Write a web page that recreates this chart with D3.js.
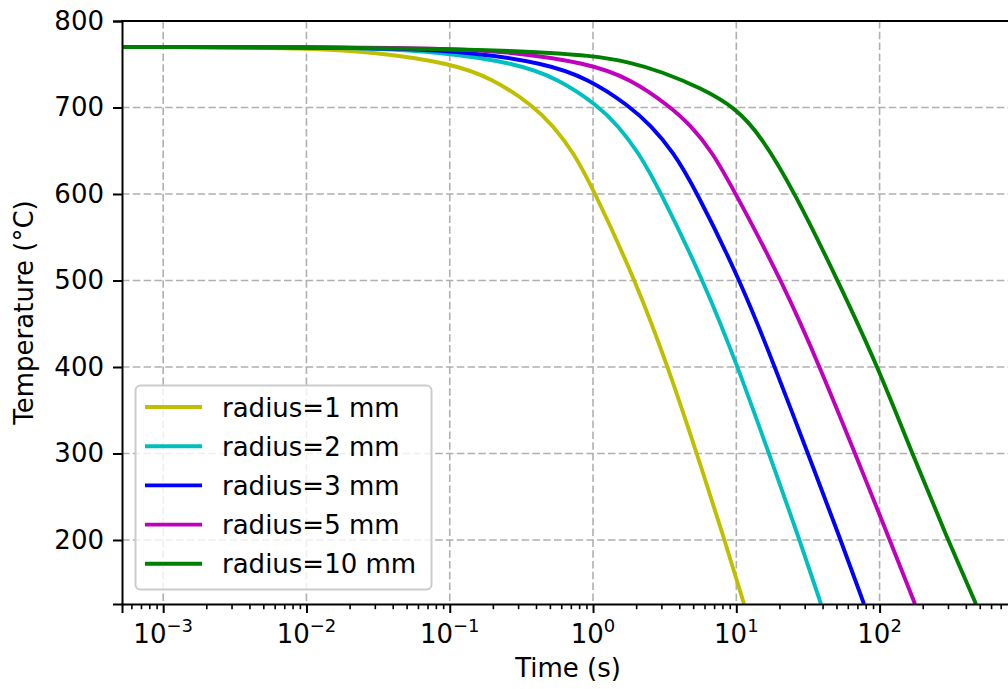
<!DOCTYPE html>
<html>
<head>
<meta charset="utf-8">
<script src="https://cdn.jsdelivr.net/npm/d3@7"></script>
<style>
body{margin:0;background:#fff;}
svg{font-family:"DejaVu Sans",sans-serif;}
</style>
</head>
<body>
<script>
// values
const seriesNames=['radius=1 mm','radius=2 mm','radius=3 mm','radius=5 mm','radius=10 mm']
const seriesColors=['#bfbf00','#00bfbf','#0000ff','#bf00bf','#008000']

const time1=[5.16e-4,0.001,0.003,0.01,0.03,0.1,0.2,0.381,0.526,0.725,1.0,2.028,3.39,5.23,8.21,11.32]
const temp1=[770,769.8,769.4,768.4,764.2,751.4,733.5,702.1,679,648.9,606.4,495.9,396.5,302.9,202.3,126]
const time2=[5.16e-4,0.001,0.01,0.0287,0.0856,0.2856,0.57,1.084,1.494,2.061,2.888,6.047,10.44,16.64,27.39,39.0]
const temp2=[770,770,769.2,768.4,764.2,751.4,733.5,702.1,679,648.9,606.4,495.9,396.5,302.9,202.3,126]
const time3=[5.16e-4,0.001,0.01,0.0457,0.1364,0.455,0.923,1.784,2.539,3.617,5.149,10.96,18.92,31.1,52.9,77.8]
const temp3=[770,770,769.5,768.4,764.2,751.4,733.5,702.1,679,648.9,606.4,495.9,396.5,302.9,202.3,126]
const time5=[5.16e-4,0.001,0.01,0.0912,0.272,0.908,1.812,3.39,4.83,6.77,9.48,21.52,39.6,66.3,116.3,176.6]
const temp5=[770,770,769.9,768.4,764.2,751.4,733.5,702.1,679,648.9,606.4,494.8,394.2,302.9,202.3,126]
const time10=[5.16e-4,0.001,0.01,0.1,0.3145,1.0,1.842,2.982,5.67,9.95,14.87,25.27,51.3,97.4,168.3,300.1,470.7]
const temp10=[770,770,769.9,767.6,765.3,760.1,752,741.6,722.5,699.4,667,603.5,499.4,400,300.6,200,126]

const yTicks=[200,300,400,500,600,700,800]
const xDecades=[-3,-2,-1,0,1,2]

const allTimes=[time1,time2,time3,time5,time10]
const allTemps=[temp1,temp2,temp3,temp5,temp10]

let W=1008,H=689
let mLeft=122,mRight=1014,mTop=21,mBottom=604

var svg=d3.select('body').append('svg').attr('width',W).attr('height',H)

var x=d3.scaleLog().domain([5.16e-4,867]).range([mLeft,mRight])
var y=d3.scaleLinear().domain([126,800]).range([mBottom,mTop])

svg.append('clipPath').attr('id','plotclip').append('rect')
  .attr('x',mLeft).attr('y',mTop).attr('width',mRight-mLeft).attr('height',mBottom-mTop)

// grid
let grid=svg.append('g')
grid.selectAll('.gx').data(xDecades).enter().append('line')
  .attr('x1',d=>x(Math.pow(10,d))).attr('x2',d=>x(Math.pow(10,d)))
  .attr('y1',mTop).attr('y2',mBottom)
  .attr('stroke','#b0b0b0').attr('stroke-width',1.6).attr('stroke-dasharray','7.5,3.3')
grid.selectAll('.gy').data(yTicks).enter().append('line')
  .attr('x1',mLeft).attr('x2',mRight)
  .attr('y1',d=>y(d)).attr('y2',d=>y(d))
  .attr('stroke','#b0b0b0').attr('stroke-width',1.6).attr('stroke-dasharray','7.5,3.3')

// curves (b-spline through the read points to keep them smooth)
var line=d3.line().x(d=>x(d[0])).y(d=>y(d[1])).curve(d3.curveBasis)
let curves=svg.append('g').attr('clip-path','url(#plotclip)')
seriesNames.forEach(function(name,i){
  let pts=allTimes[i].map((t,j)=>[t,allTemps[i][j]])
  curves.append('path').attr('d',line(pts))
    .attr('fill','none').attr('stroke',seriesColors[i]).attr('stroke-width',3.9)
    .attr('stroke-linejoin','round')
})

// y axis
let yAxis=svg.append('g').attr('transform','translate('+mLeft+',0)')
  .call(d3.axisLeft(y).tickValues(yTicks).tickSize(9).tickPadding(9).tickFormat(d3.format('d')))
yAxis.select('.domain').attr('stroke','#000').attr('stroke-width',2)
yAxis.selectAll('.tick line').attr('stroke','#000').attr('stroke-width',2)
yAxis.selectAll('.tick text').attr('font-size',26).attr('font-family','DejaVu Sans').attr('fill','#000')

// x axis, minor ticks first
let minor=[]
for(let e=-4;e<3;e++){for(let m=2;m<10;m++){let v=m*Math.pow(10,e);if(v>=5.16e-4&&v<=867)minor.push(v)}}
let xMinor=svg.append('g').attr('transform','translate(0,'+mBottom+')')
  .call(d3.axisBottom(x).tickValues(minor).tickSize(5.2).tickFormat(''))
xMinor.select('.domain').remove()
xMinor.selectAll('.tick line').attr('stroke','#000').attr('stroke-width',1.6)

let xAxis=svg.append('g').attr('transform','translate(0,'+mBottom+')')
  .call(d3.axisBottom(x).tickValues(xDecades.map(d=>Math.pow(10,d))).tickSize(9).tickFormat(''))
xAxis.select('.domain').attr('stroke','#000').attr('stroke-width',2)
xAxis.selectAll('.tick line').attr('stroke','#000').attr('stroke-width',2)

let xl=svg.append('g')
xDecades.forEach(function(d){
  let t=xl.append('text').attr('x',x(Math.pow(10,d))).attr('y',643)
    .attr('text-anchor','middle').attr('font-size',26).attr('fill','#000')
  t.append('tspan').text('10')
  t.append('tspan').attr('dy',-11).attr('font-size',18).text(d<0?'\u2212'+(-d):String(d))
})

// top and right spines
svg.append('line').attr('x1',mLeft-1).attr('x2',mRight+1).attr('y1',mTop).attr('y2',mTop)
  .attr('stroke','#000').attr('stroke-width',2)
svg.append('line').attr('x1',mRight).attr('x2',mRight).attr('y1',mTop).attr('y2',mBottom)
  .attr('stroke','#000').attr('stroke-width',2)

// axis labels
svg.append('text').attr('x',(mLeft+mRight)/2).attr('y',677).attr('text-anchor','middle')
  .attr('font-size',26).text('Time (s)')
svg.append('text').attr('transform','translate(33,'+((mTop+mBottom)/2)+') rotate(-90)')
  .attr('text-anchor','middle').attr('font-size',26).text('Temperature (\u00b0C)')

// legend
let lg=svg.append('g')
lg.append('rect').attr('x',135.5).attr('y',385.5).attr('width',296).attr('height',204)
  .attr('rx',5).attr('fill','#fff').attr('fill-opacity',0.8).attr('stroke','#cccccc').attr('stroke-width',2)
seriesNames.forEach(function(name,i){
  let cy=407+i*39.2
  lg.append('line').attr('x1',145).attr('x2',202).attr('y1',cy).attr('y2',cy)
    .attr('stroke',seriesColors[i]).attr('stroke-width',3.9)
  lg.append('text').attr('x',222).attr('y',cy+9.5).attr('font-size',26).attr('fill','#000').text(name)
})
</script>
</body>
</html>
